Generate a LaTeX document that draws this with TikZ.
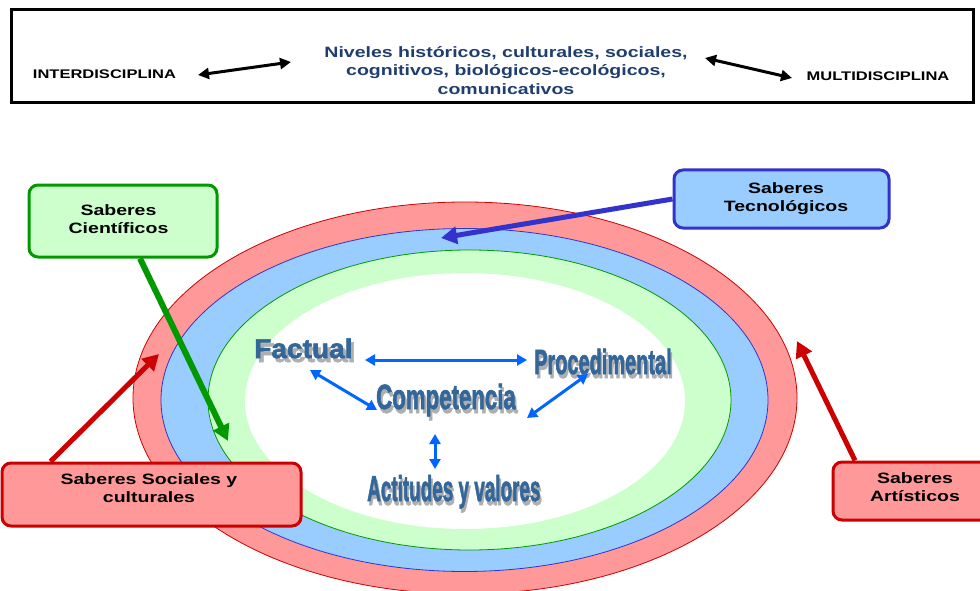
\documentclass[tikz,border=0pt]{standalone}
\usepackage{fontspec}
\setsansfont{Liberation Sans}
\newfontfamily\heavyfont[FakeBold=2.2]{Liberation Sans Bold}
\usepackage{graphicx}
\usetikzlibrary{arrows.meta}
\definecolor{redfill}{HTML}{FF9999}
\definecolor{redline}{HTML}{CC0000}
\definecolor{bluefill}{HTML}{99CCFF}
\definecolor{blueline}{HTML}{3333CC}
\definecolor{greenfill}{HTML}{CCFFCC}
\definecolor{greenline}{HTML}{009900}
\definecolor{inblue}{HTML}{336699}
\definecolor{shgray}{HTML}{AFAFAF}
\definecolor{arrblue}{HTML}{0066FF}
\definecolor{navy}{HTML}{1F3D6E}
\newcommand\widetxt[2]{\scalebox{#1}[1]{\begin{tabular}{@{}c@{}}#2\end{tabular}}}
\newcommand\shtxt[2]{\scalebox{#1}[1]{\rlap{\hspace{3pt}\raisebox{-4pt}{\color{shgray}#2}}{\color{inblue}#2}}}
\begin{document}
\begin{tikzpicture}[x=1pt,y=-1pt,
  font=\sffamily\bfseries,
  ring/.style={line width=0.8pt},
  sbox/.style={draw, rounded corners=9pt, line width=3pt, inner sep=0pt},
  boxtext/.style={inner sep=0pt, font=\sffamily\bfseries\fontsize{15}{18}\selectfont},
  toptext/.style={inner sep=0pt, font=\sffamily\bfseries\fontsize{12.5}{15}\selectfont},
  bigarrow/.style={line width=5pt, -{Triangle[length=16pt,width=17pt]}},
  blackarrow/.style={line width=3pt, {Triangle[length=11pt,width=11pt]}-{Triangle[length=11pt,width=11pt]}},
  bluearrow/.style={arrblue, line width=3pt, {Triangle[length=10pt,width=11pt]}-{Triangle[length=10pt,width=11pt]}},
  inner/.style={inner sep=0pt, anchor=base west}
]
\useasboundingbox (0,0) rectangle (980,591);
\clip (0,0) rectangle (980,591);

% top frame
\node[draw, line width=3pt, minimum width=962pt, minimum height=93pt, inner sep=0pt] (frame) at (492,56.5) {};
\node[toptext, anchor=base] (inter) at (104.5,79) {\widetxt{1.32}{INTERDISCIPLINA}};
\node[toptext, anchor=base] (multi) at (878,81) {\widetxt{1.32}{MULTIDISCIPLINA}};
\node[inner sep=0pt, text=navy, font=\sffamily\bfseries\fontsize{15}{18.5}\selectfont] (niveles) at (506,72)
  {\widetxt{1.3}{Niveles históricos, culturales, sociales,\\cognitivos, biológicos-ecológicos,\\comunicativos}};
\coordinate (ia) at (198,75);
\coordinate (ib) at (291,62);
\coordinate (ma) at (705,58);
\coordinate (mb) at (792,78);
\draw[blackarrow] (ia) -- (ib);
\draw[blackarrow] (ma) -- (mb);

% rings
\draw[ring, draw=redline, fill=redfill] (465,398) ellipse [x radius=332, y radius=196];
\draw[ring, draw=blueline, fill=bluefill] (464.5,400) ellipse [x radius=303.5, y radius=171.5];
\draw[ring, draw=greenline, fill=greenfill] (469.5,400) ellipse [x radius=261.5, y radius=150];
\fill[white] (465,401) ellipse [x radius=220, y radius=128];

% inner words
\node[inner, font=\heavyfont\fontsize{27}{30}\selectfont] (fact) at (254,358) {\shtxt{1.04}{Factual}};
\node[inner, font=\heavyfont\fontsize{35}{38}\selectfont] (proc) at (534,374) {\shtxt{0.57}{Procedimental}};
\node[inner, font=\heavyfont\fontsize{35}{38}\selectfont] (comp) at (376,409) {\shtxt{0.635}{Competencia}};
\node[inner, font=\heavyfont\fontsize{36}{39}\selectfont] (acti) at (367,501) {\shtxt{0.525}{Actitudes y valores}};
\coordinate (fp1) at (365,360);
\coordinate (fp2) at (527,360);
\coordinate (fc1) at (310,370);
\coordinate (fc2) at (377,410);
\coordinate (pc1) at (588,374);
\coordinate (pc2) at (527,418);
\coordinate (ca1) at (435,434);
\coordinate (ca2) at (435,469);
\draw[bluearrow] (fp1) -- (fp2);
\draw[bluearrow] (fc1) -- (fc2);
\draw[bluearrow] (pc1) -- (pc2);
\draw[bluearrow] (ca1) -- (ca2);

% boxes
\node[sbox, draw=greenline, fill=greenfill, minimum width=188pt, minimum height=72pt] (cien) at (123,221) {};
\node[boxtext] (cient) at (118.5,221) {\widetxt{1.3}{Saberes\\Científicos}};
\node[sbox, draw=blueline, fill=bluefill, minimum width=215pt, minimum height=58pt] (tecb) at (781.5,199) {};
\node[boxtext] (tect) at (786,199) {\widetxt{1.3}{Saberes\\Tecnológicos}};
\node[sbox, draw=redline, fill=redfill, minimum width=299pt, minimum height=63pt] (socb) at (151.5,494.5) {};
\node[boxtext] (soct) at (149,490) {\widetxt{1.3}{Saberes Sociales y\\culturales}};
\node[sbox, draw=redline, fill=redfill, minimum width=170pt, minimum height=58pt] (artb) at (918,491) {};
\node[boxtext] (artt) at (915,489) {\widetxt{1.3}{Saberes\\Artísticos}};

% connectors
\coordinate (gend) at (228,441);
\coordinate (bend) at (441,238);
\coordinate (rend1) at (159,354);
\coordinate (rend2) at (797,341);
\draw[bigarrow, greenline, line width=6pt] ([xshift=17pt]cien.south) -- (gend);
\draw[bigarrow, blueline] (tecb.west) -- (bend);
\draw[bigarrow, redline] ([xshift=-101pt]socb.north) -- (rend1);
\draw[bigarrow, redline] ([xshift=-63pt]artb.north) -- (rend2);
\end{tikzpicture}
\end{document}
